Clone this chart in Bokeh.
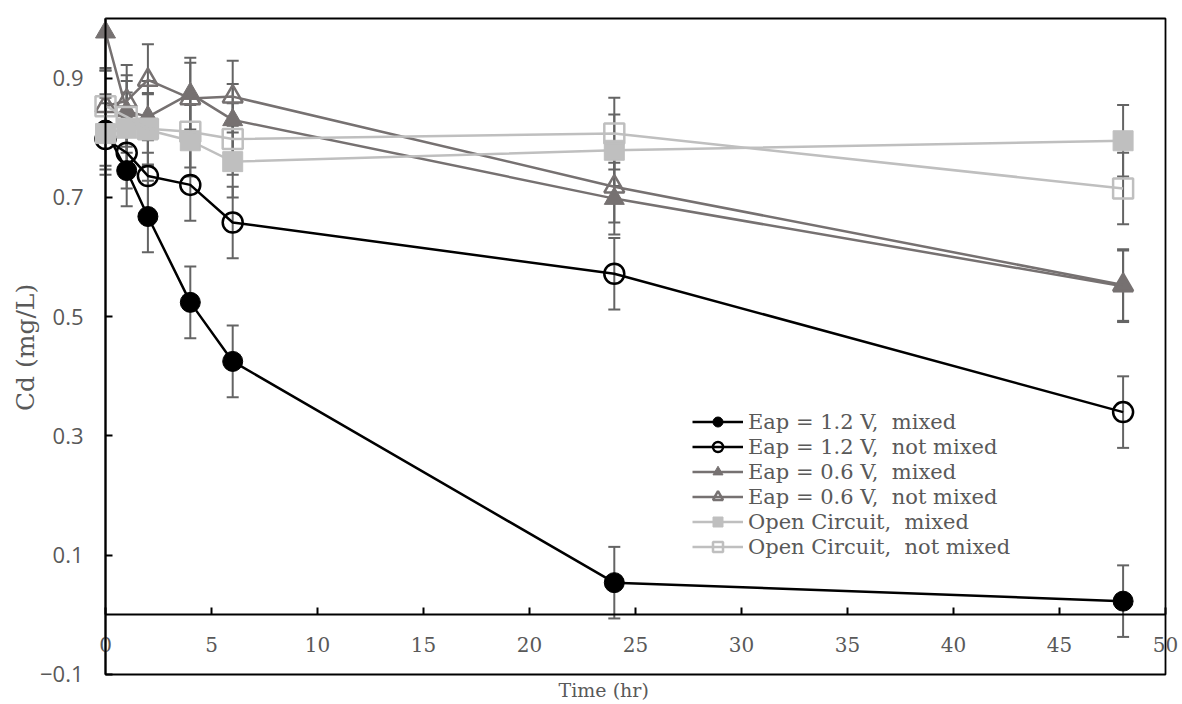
import math
from bokeh.plotting import figure
from bokeh.models import (Range1d, FixedTicker, Legend, LegendItem, Label)
from bokeh.embed import file_html
from bokeh.resources import INLINE

# ---------------- data ----------------
time_hr = [0, 1, 2, 4, 6, 24, 48]

eap12_mixed = [0.813, 0.745, 0.668, 0.524, 0.425, 0.054, 0.023]
eap12_notmixed = [0.798, 0.775, 0.736, 0.721, 0.658, 0.572, 0.340]
eap06_mixed = [0.977, 0.845, 0.835, 0.874, 0.830, 0.698, 0.551]
eap06_notmixed = [0.853, 0.862, 0.897, 0.866, 0.869, 0.718, 0.553]
oc_mixed = [0.807, 0.816, 0.813, 0.795, 0.760, 0.779, 0.795]
oc_notmixed = [0.853, 0.835, 0.815, 0.810, 0.798, 0.807, 0.715]

err_eap12_mixed = [0.06, 0.06, 0.06, 0.06, 0.06, 0.06, 0.06]
err_eap12_notmixed = [0.06, 0.06, 0.06, 0.06, 0.06, 0.06, 0.06]
err_eap06_mixed = [0.06, 0.06, 0.06, 0.06, 0.06, 0.06, 0.06]
err_eap06_notmixed = [0.06, 0.06, 0.06, 0.06, 0.06, 0.06, 0.06]
err_oc_mixed = [0.06, 0.06, 0.06, 0.06, 0.06, 0.06, 0.06]
err_oc_notmixed = [0.06, 0.06, 0.06, 0.06, 0.06, 0.06, 0.06]

labels = ["Eap = 1.2 V,  mixed", "Eap = 1.2 V,  not mixed",
          "Eap = 0.6 V,  mixed", "Eap = 0.6 V,  not mixed",
          "Open Circuit,  mixed", "Open Circuit,  not mixed"]

x_ticks = [0, 5, 10, 15, 20, 25, 30, 35, 40, 45, 50]
y_ticks = [-0.1, 0.1, 0.3, 0.5, 0.7, 0.9]
x_lim = (0, 50)
y_lim = (-0.1, 1.0)

# ---------------- styles ----------------
BLACK = "#000000"
DARK = "#767171"
LIGHT = "#BFBFBF"
ERR = "#646464"
TXT = "#595959"
SERIF = "DejaVu Serif"

series = [
    (eap12_mixed, err_eap12_mixed, BLACK, "circle", True),
    (eap12_notmixed, err_eap12_notmixed, BLACK, "circle", False),
    (eap06_mixed, err_eap06_mixed, DARK, "triangle", True),
    (eap06_notmixed, err_eap06_notmixed, DARK, "triangle", False),
    (oc_mixed, err_oc_mixed, LIGHT, "square", True),
    (oc_notmixed, err_oc_notmixed, LIGHT, "square", False),
]

# The frame covers the whole canvas; the visible plot box spans the data limits.
p = figure(width=1182, height=704, output_backend="svg", toolbar_location=None,
           x_range=Range1d(-4.953, 50.802), y_range=Range1d(-0.15031, 1.03018),
           min_border=0)
p.grid.visible = False
p.outline_line_color = None
p.background_fill_color = "white"
p.border_fill_color = "white"

# x axis crossing at y = 0
xa = p.xaxis[0]
xa.fixed_location = 0
xa.bounds = x_lim
xa.ticker = FixedTicker(ticks=x_ticks)
xa.major_tick_in = 7
xa.major_tick_out = 0
xa.minor_tick_line_color = None
xa.axis_line_color = "black"
xa.axis_line_width = 2
xa.major_tick_line_color = "black"
xa.major_tick_line_width = 2
xa.major_label_text_font = SERIF
xa.major_label_text_font_size = "20px"
xa.major_label_text_color = TXT
xa.major_label_standoff = 22

# y axis at x = 0
ya = p.yaxis[0]
ya.fixed_location = 0
ya.bounds = y_lim
ya.ticker = FixedTicker(ticks=y_ticks)
ya.major_tick_in = 7
ya.major_tick_out = 0
ya.minor_tick_line_color = None
ya.axis_line_color = "black"
ya.axis_line_width = 2
ya.major_tick_line_color = "black"
ya.major_tick_line_width = 2
ya.major_label_text_font = "Open Sans"
ya.major_label_text_font_size = "22px"
ya.major_label_text_color = TXT
ya.major_label_standoff = 22

# plot box
p.quad(left=[x_lim[0]], right=[x_lim[1]], bottom=[y_lim[0]], top=[y_lim[1]],
       fill_color=None, line_color="black", line_width=1.8)

# axis titles
p.add_layout(Label(x=23.5, y=-0.1268, text="Time (hr)", text_font=SERIF,
                   text_font_size="19px", text_color=TXT, text_align="center",
                   text_baseline="middle"))
p.add_layout(Label(x=-3.774, y=0.4484, text="Cd (mg/L)", text_font=SERIF,
                   text_font_size="25px", text_color=TXT, text_align="center",
                   text_baseline="middle", angle=math.pi / 2))

# error bars (drawn beneath everything), clipped to the plot box like the original
for vals, errs, color, marker, filled in series:
    lo = [v - e for v, e in zip(vals, errs)]
    hi = [v + e for v, e in zip(vals, errs)]
    hi_c = [min(h, y_lim[1]) for h in hi]
    lo_c = [max(l, y_lim[0]) for l in lo]
    p.segment(x0=time_hr, y0=lo_c, x1=time_hr, y1=hi_c, line_color=ERR, line_width=2)
    cap_x = [t for t, h in zip(time_hr, hi) if h <= y_lim[1]] + \
            [t for t, l in zip(time_hr, lo) if l >= y_lim[0]]
    cap_y = [h for h in hi if h <= y_lim[1]] + [l for l in lo if l >= y_lim[0]]
    p.scatter(x=cap_x, y=cap_y, marker="dash", size=12,
              line_color=ERR, line_width=2)

items = []
for (vals, errs, color, marker, filled), lab in zip(series, labels):
    lr = p.line(time_hr, vals, line_color=color, line_width=2.5)
    if filled:
        sr = p.scatter(time_hr, vals, marker=marker, size=20, fill_color=color,
                       line_color=color, line_width=1)
    else:
        sr = p.scatter(time_hr, vals, marker=marker, size=20, fill_color=None,
                       line_color=color, line_width=2.5)
    items.append(LegendItem(label=lab, renderers=[lr, sr]))

legend = Legend(items=items, location=(692, 145), orientation="vertical",
                padding=0, margin=0, spacing=0, glyph_width=51, glyph_height=25,
                label_height=25, label_standoff=5,
                label_text_font=SERIF, label_text_font_size="21px",
                label_text_color=TXT, border_line_color=None,
                background_fill_alpha=0)
p.add_layout(legend)

open("out.html", "w").write(file_html(p, INLINE))
